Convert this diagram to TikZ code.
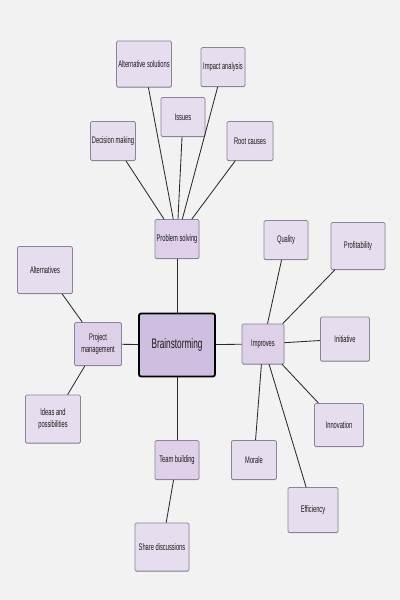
\documentclass[tikz,border=0pt]{standalone}
\usepackage{fontspec}
\newfontfamily\boxfont[FakeStretch=0.6]{Liberation Sans}
\usepackage{tikz}
\usetikzlibrary{positioning, shadows}
\definecolor{bgcol}{HTML}{F2F2F2}
\definecolor{leafcol}{HTML}{E6DDEE}
\definecolor{hubcol}{HTML}{DDD0E8}
\definecolor{maincol}{HTML}{CEBEDF}
\definecolor{edgecol}{HTML}{8C8494}
\definecolor{linecol}{HTML}{2A2A2A}

\begin{document}
\begin{tikzpicture}[
  leaf/.style={draw=edgecol, fill=leafcol, rounded corners=1pt, line width=0.5pt,
    font=\boxfont\fontsize{6.8}{8}\selectfont, text=black!90, align=center,
    minimum width=1.1cm, minimum height=0.975cm, inner sep=1pt,
    drop shadow={shadow xshift=0pt, shadow yshift=-0.5pt, fill=edgecol, opacity=0.9}},
  hub/.style={leaf, fill=hubcol},
  main/.style={draw=black, fill=maincol, rounded corners=1.5pt, line width=1.3pt,
    font=\boxfont\fontsize{9.8}{11}\selectfont, text=black!90,
    minimum width=1.9cm, minimum height=1.575cm},
  link/.style={draw=linecol, line width=0.6pt}
]
\fill[bgcol] (0,0) rectangle (10,15);
\useasboundingbox (0,0) rectangle (10,15);

\node[main] (BS) at (4.425,6.375) {Brainstorming};

\node[hub] (PS) at (4.425,9.025) {Problem solving};
\node[hub, minimum width=1.175cm, minimum height=1.075cm] (PM) at (2.45,6.4) {Project\\management};
\node[hub] (TB) at (4.425,3.5) {Team building};
\node[hub, minimum width=1.05cm, minimum height=1cm] (IM) at (6.575,6.4) {Improves};

\node[leaf, minimum width=1.375cm, minimum height=1.15cm] (AS) at (3.6,13.4) {Alternative solutions};
\node[leaf] (IA) at (5.575,13.325) {Impact analysis};
\node[leaf] (IS) at (4.575,12.075) {Issues};
\node[leaf] (DM) at (2.825,11.475) {Decision making};
\node[leaf, minimum width=1.15cm] (RC) at (6.25,11.475) {Root causes};

\node[leaf, minimum width=1.375cm, minimum height=1.175cm] (AL) at (1.125,8.25) {Alternatives};
\node[leaf, minimum width=1.375cm, minimum height=1.2cm] (IP) at (1.325,4.525) {Ideas and\\possibilities};

\node[leaf, minimum width=1.35cm, minimum height=1.2cm] (SD) at (4.05,1.325) {Share discussions};

\node[leaf] (QU) at (7.15,9.0) {Quality};
\node[leaf, minimum width=1.35cm, minimum height=1.175cm] (PR) at (8.95,8.85) {Profitability};
\node[leaf, minimum width=1.225cm, minimum height=1.1cm] (IN) at (8.625,6.525) {Initiative};
\node[leaf, minimum width=1.225cm, minimum height=1.075cm] (IO) at (8.475,4.375) {Innovation};
\node[leaf, minimum width=1.125cm] (MO) at (6.35,3.5) {Morale};
\node[leaf, minimum width=1.25cm, minimum height=1.125cm] (EF) at (7.825,2.25) {Efficiency};

\draw[link] (BS)--(PS);
\draw[link] (BS)--(PM);
\draw[link] (BS)--(TB);
\draw[link] (BS)--(IM);

\draw[link] (PS)--(AS);
\draw[link] (PS)--(IA);
\draw[link] (PS)--(IS);
\draw[link] (PS)--(DM);
\draw[link] (PS)--(RC);

\draw[link] (PM)--(AL);
\draw[link] (PM)--(IP);

\draw[link] (TB)--(SD);

\draw[link] (IM)--(QU);
\draw[link] (IM)--(PR);
\draw[link] (IM)--(IN);
\draw[link] (IM)--(IO);
\draw[link] (IM)--(MO);
\draw[link] (IM)--(EF);
\end{tikzpicture}
\end{document}
